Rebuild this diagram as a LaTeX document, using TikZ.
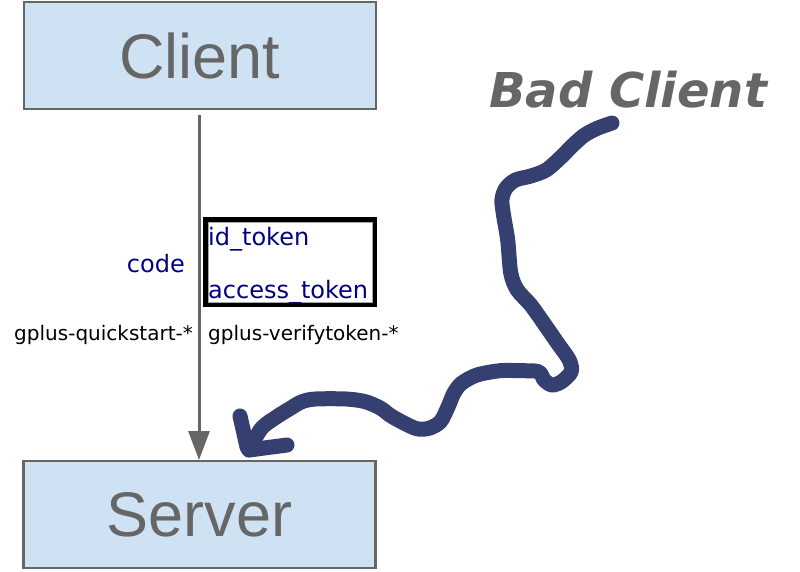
\documentclass[tikz,border=0pt]{standalone}
\usepackage{fontspec}
\setmainfont{Liberation Sans}
\newfontfamily\verd{DejaVu Sans}
\usetikzlibrary{arrows.meta}
\definecolor{boxfill}{HTML}{CFE2F3}
\definecolor{boxline}{HTML}{666666}
\definecolor{navytxt}{HTML}{000080}
\definecolor{squig}{HTML}{353F70}
\tikzset{
  bigbox/.style={draw=boxline, line width=2.8, fill=boxfill, minimum width=352, minimum height=107, inner sep=0,
    text=boxline, font=\fontsize{63}{70}\selectfont},
  navylbl/.style={inner sep=0, text=navytxt, font=\verd\fontsize{24}{28}\selectfont},
  blacklbl/.style={inner sep=0, text=black, font=\verd\fontsize{20}{24}\selectfont},
  scribble/.style={draw=squig, line width=15, line cap=round, line join=round},
}
\begin{document}
\begin{tikzpicture}[x=1pt, y=-1pt]
\useasboundingbox (0,0) rectangle (800,571);
\node[bigbox] (client) at (200,55.5) {Client};
\node[bigbox] (server) at (199.5,514.5) {Server};
\draw[boxline, line width=3, shorten <=6, -{Triangle[length=29, width=21]}] (199,109) coordinate (astart) -- (199,460) coordinate (aend);
\node[draw=black, line width=5, minimum width=169, minimum height=85, inner sep=0] (tokbox) at (290,262) {};
\draw[gray!70, line width=0.8] (208,222) rectangle (372,302);
\node[navylbl, anchor=base east] (code) at (185,272) {code};
\node[navylbl, anchor=base west] (idt) at (208,245) {id\_token};
\node[navylbl, anchor=base west] (act) at (208,298) {access\_token};
\node[blacklbl, anchor=base east] (gq) at (193,340) {gplus-quickstart-*};
\node[blacklbl, anchor=base west] (gv) at (208,340) {gplus-verifytoken-*};
\node[inner sep=0, text=boxline, anchor=base west, font=\verd\bfseries\itshape\fontsize{48}{54}\selectfont] (bad) at (489,107) {Bad Client};
\coordinate (s0) at (612,123);
\coordinate (tip) at (249,450);
\draw[scribble] plot[smooth, tension=0.5] coordinates {
(s0) (598,128) (584.6,135) (572,146) (561.5,156.7) (546.2,170) (530.8,176) (515.4,180) (505.8,188.3) (501.9,200)
(503.8,216.7) (507.7,240) (510.8,273.3) (517.3,290) (530.8,305) (546.2,326.7) (557.7,343.3)
(569.2,360) (571.2,371.7) (561.5,381.7) (551.9,385) (544.2,380) (538.5,371.7) (520,370.7) (500,370.7)
(476.9,375) (461.5,383.3) (453.8,393.3) (448.1,406.7) (440.4,421.7) (428.8,428.3) (415.4,428.3)
(392.3,416.7) (380.8,408.3) (365.4,401.7) (346.2,399) (315.4,399) (301.9,401.7) (290.4,408.3)
(276.9,416.7) (261.5,428.3) (tip)};
\draw[scribble] (240,416) -- (247,447) -- (tip) -- (287,445);
\end{tikzpicture}
\end{document}
